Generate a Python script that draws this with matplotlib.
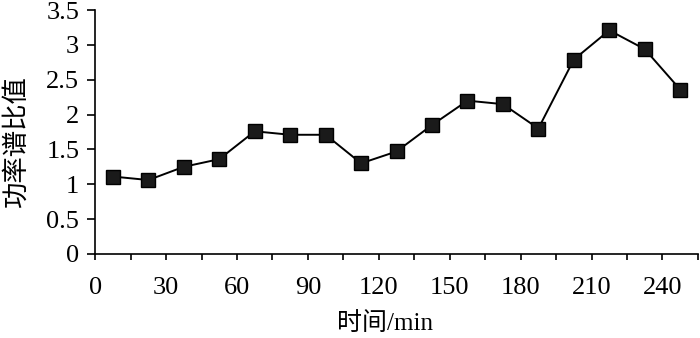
import numpy as np
import matplotlib
matplotlib.use('Agg')
import matplotlib.pyplot as plt
from matplotlib.ticker import MultipleLocator

# 时间 (min) 与 功率谱比值
time_min = [7.5, 22.5, 37.5, 52.5, 67.5, 82.5, 97.5, 112.5, 127.5,
            142.5, 157.5, 172.5, 187.5, 202.5, 217.5, 232.5, 247.5]
ratio = [1.11, 1.06, 1.25, 1.36, 1.76, 1.71, 1.71, 1.30, 1.47,
         1.85, 2.20, 2.15, 1.80, 2.79, 3.21, 2.94, 2.36]
x_ticks = [0, 30, 60, 90, 120, 150, 180, 210, 240]
y_ticks = [0, 0.5, 1, 1.5, 2, 2.5, 3, 3.5]

plt.rcParams['font.family'] = ['Liberation Serif', 'Noto Sans CJK SC']
plt.rcParams['axes.unicode_minus'] = False

fig = plt.figure(figsize=(7, 3.38), dpi=100)
ax = fig.add_axes([0.136, 0.249, 0.861, 0.721])

ax.plot(time_min, ratio, color='black', lw=1.4, marker='s', markersize=10,
        markerfacecolor='#1a1a1a', markeredgecolor='black')

ax.set_xlim(0, 255)
ax.set_ylim(0, 3.5)
ax.set_xticks(x_ticks)
ax.xaxis.set_minor_locator(MultipleLocator(15))
ax.set_yticks(y_ticks)
ax.set_yticklabels([f'{v:g}' for v in y_ticks])

for s in ['top', 'right']:
    ax.spines[s].set_visible(False)
for s in ['left', 'bottom']:
    ax.spines[s].set_linewidth(1.2)

ax.tick_params(axis='both', which='both', direction='out', width=1.2,
               labelsize=19)
ax.tick_params(axis='x', which='both', length=4.5, pad=12)
ax.tick_params(axis='y', which='both', length=5.5, pad=6)

# 轴标题
fig.text(385 / 700, 1 - 324 / 338, '时间/min', fontsize=18,
         ha='center', va='center')
fig.text(16 / 700, 1 - 141 / 338, '功率谱比值', fontsize=19,
         ha='center', va='center', rotation=90)

plt.savefig('out.png', dpi=100, facecolor='white')
